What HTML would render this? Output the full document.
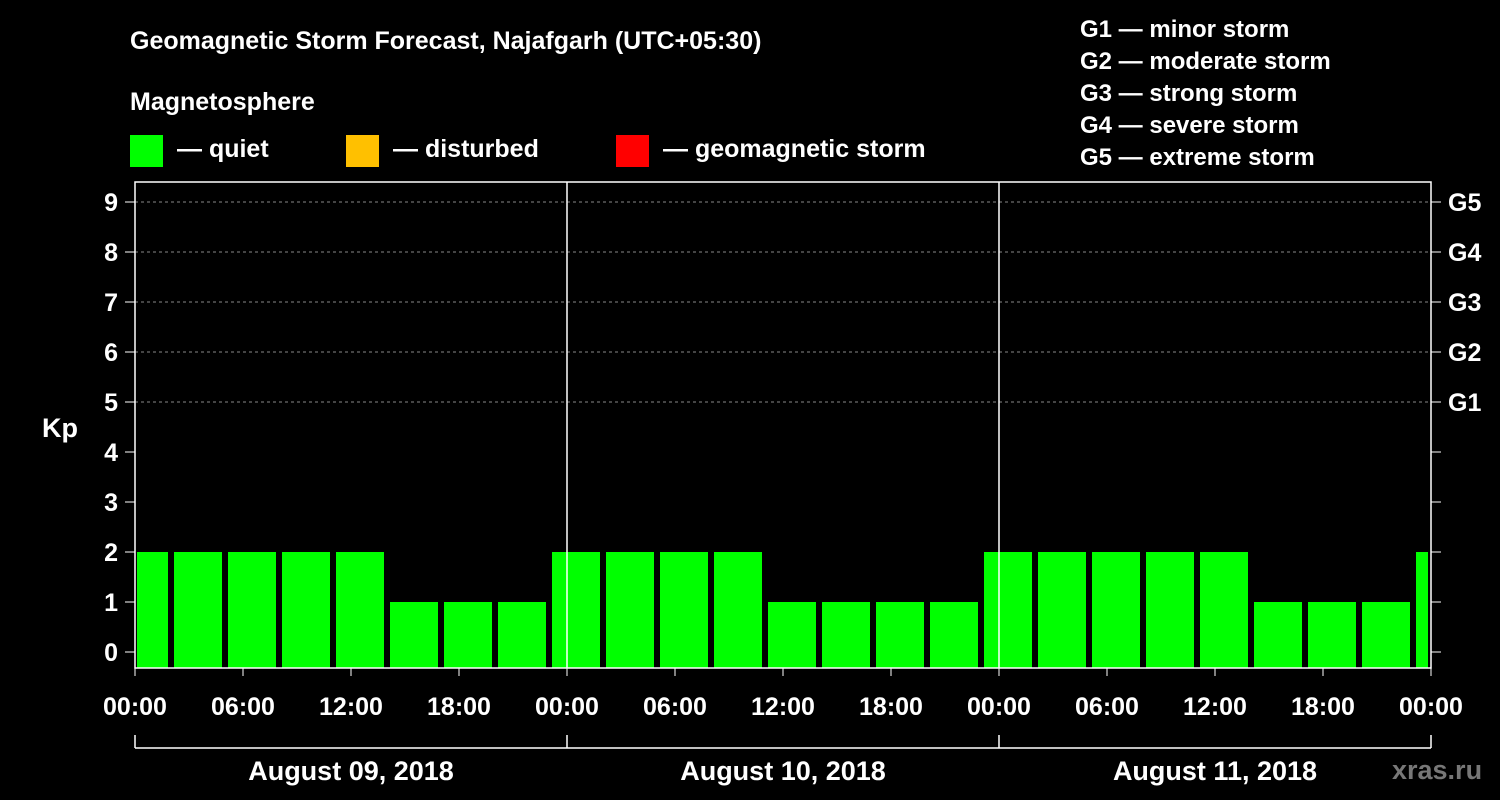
<!DOCTYPE html>
<html><head><meta charset="utf-8"><style>
body{margin:0;background:#000;}
svg{display:block;font-family:"Liberation Sans",Arial,sans-serif;font-weight:bold;}
</style></head><body>
<svg id="chart" width="1500" height="800" viewBox="0 0 1500 800">
<rect width="1500" height="800" fill="#000"/>
<text x="130" y="49" fill="#fff" font-size="25">Geomagnetic Storm Forecast, Najafgarh (UTC+05:30)</text>
<text x="130" y="110" fill="#fff" font-size="25">Magnetosphere</text>
<g><rect x="130" y="135" width="33" height="32" fill="#00ff00"/><text x="177" y="157" fill="#fff" font-size="25">— quiet</text></g>
<g><rect x="346" y="135" width="33" height="32" fill="#ffc000"/><text x="393" y="157" fill="#fff" font-size="25">— disturbed</text></g>
<g><rect x="616" y="135" width="33" height="32" fill="#ff0000"/><text x="663" y="157" fill="#fff" font-size="25">— geomagnetic storm</text></g>
<g fill="#fff" font-size="24">
<text x="1080" y="37">G1 — minor storm</text>
<text x="1080" y="69">G2 — moderate storm</text>
<text x="1080" y="101">G3 — strong storm</text>
<text x="1080" y="133">G4 — severe storm</text>
<text x="1080" y="165">G5 — extreme storm</text>
</g>
<text x="42" y="437" fill="#fff" font-size="27">Kp</text>
<g id="grid"></g><g id="bars"></g><g id="axes"></g>
<text x="1392" y="779" fill="#777" font-size="27">xras.ru</text>
</svg>
<script>
const kpValues=[2, 2,2,2,2,1,1,1, 2,2,2,2,1,1,1,1, 2,2,2,2,2,1,1,1, 2];
const dayLabels=["August 09, 2018","August 10, 2018","August 11, 2018"];
const xTickLabels=["00:00","06:00","12:00","18:00"];
const gLabels=["G1","G2","G3","G4","G5"];
const NS="http://www.w3.org/2000/svg";
const X0=135, X1=1431, DAYW=432, PT=182, PB=668;
function xh(h){return X0+h*DAYW/24;}
function yk(k){return 652-k*50;}
function mk(t,a,p){const e=document.createElementNS(NS,t);for(const k in a)e.setAttribute(k,a[k]);p.appendChild(e);return e;}
const grid=document.getElementById('grid'),bars=document.getElementById('bars'),axes=document.getElementById('axes');
for(let k=5;k<=9;k++){const l=mk('line',{x1:X0,x2:X1,y1:yk(k),y2:yk(k),stroke:'#888','stroke-dasharray':'3,3','stroke-width':1},grid);

}
kpValues.forEach((v,i)=>{
 const start=-2.5+3*(i-1)+2.5; // interval start in hours: bar i covers [2+3(i-1), 2+3i]
 const s=2+3*(i-1), e=s+3;
 let a=xh(s)+3, b=xh(e)-3;
 a=Math.max(a,X0+2); b=Math.min(b,X1-3);
 const r=mk('rect',{x:a,y:yk(v),width:b-a,height:PB-yk(v),fill:v>=5?'#ff0000':(v>=4?'#ffc000':'#00ff00')},bars);
 
 
});
const frame=mk('rect',{x:X0,y:PT,width:X1-X0,height:PB-PT,fill:'none',stroke:'#fff','stroke-width':1.5},axes);


for(let d=1;d<3;d++){const l=mk('line',{x1:xh(24*d),x2:xh(24*d),y1:PT,y2:PB,stroke:'#fff','stroke-width':1.5},axes);

}
for(let k=0;k<=9;k++){
 mk('line',{x1:125,x2:X0,y1:yk(k),y2:yk(k),stroke:'#fff'},axes);
 mk('line',{x1:X1,x2:X1+10,y1:yk(k),y2:yk(k),stroke:'#fff'},axes);
 const t=mk('text',{x:118,y:yk(k)+9,fill:'#fff','font-size':25,'text-anchor':'end'},axes);t.textContent=k;
 
 
}
gLabels.forEach((g,i)=>{const t=mk('text',{x:1448,y:yk(5+i)+9,fill:'#fff','font-size':25},axes);t.textContent=g;

});
for(let h=0;h<=72;h+=6){
 mk('line',{x1:xh(h),x2:xh(h),y1:PB,y2:PB+8,stroke:'#fff'},axes);
 const t=mk('text',{x:xh(h),y:715,fill:'#fff','font-size':25,'text-anchor':'middle'},axes);
 t.textContent=xTickLabels[(h/6)%4];
 
 
}
mk('line',{x1:X0,x2:X1,y1:748,y2:748,stroke:'#fff','stroke-width':1.5},axes);
for(let d=0;d<=3;d++)mk('line',{x1:xh(24*d),x2:xh(24*d),y1:735,y2:748,stroke:'#fff','stroke-width':1.5},axes);
dayLabels.forEach((s,d)=>{const t=mk('text',{x:xh(24*d+12),y:780,fill:'#fff','font-size':27,'text-anchor':'middle'},axes);t.textContent=s;

});
</script>
</body></html>
